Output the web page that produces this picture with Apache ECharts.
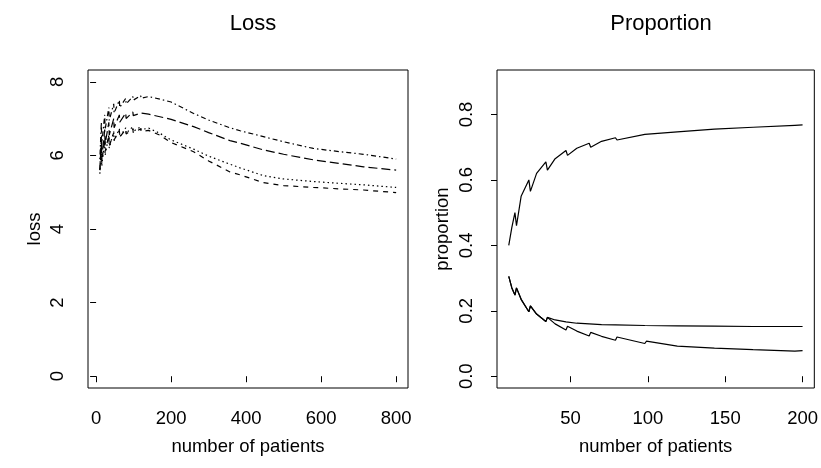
<!DOCTYPE html>
<html>
<head>
<meta charset="utf-8">
<script src="https://cdn.jsdelivr.net/npm/echarts@6/dist/echarts.min.js"></script>
<style>
  html, body { margin: 0; padding: 0; background: #fff; }
  #main { width: 821px; height: 468px; }
</style>
</head>
<body>
<div id="main"></div>
<script>
// left panel: loss vs number of patients
var lossN = [10, 14, 15, 23, 24, 34, 35, 47, 48, 62, 63, 79, 80, 98, 99, 119, 120, 140, 170, 200, 260, 300, 357, 384, 446, 500, 579, 650, 713, 760, 800];
var lossDotDash = [5.9, 6.9, 6.3, 7.1, 6.7, 7.3, 6.95, 7.4, 7.15, 7.5, 7.3, 7.55, 7.4, 7.6, 7.5, 7.62, 7.55, 7.6, 7.53, 7.45, 7.14, 6.96, 6.75, 6.67, 6.51, 6.37, 6.19, 6.1, 6.03, 5.96, 5.9];
var lossLongDash = [5.6, 6.5, 5.9, 6.7, 6.3, 6.9, 6.55, 7.0, 6.75, 7.1, 6.9, 7.15, 7.0, 7.18, 7.08, 7.15, 7.1, 7.12, 7.05, 6.98, 6.78, 6.62, 6.4, 6.33, 6.15, 6.03, 5.88, 5.78, 5.69, 5.64, 5.6];
var lossDotted = [5.5, 6.2, 5.7, 6.4, 6.0, 6.55, 6.2, 6.65, 6.4, 6.72, 6.5, 6.75, 6.6, 6.78, 6.65, 6.78, 6.7, 6.74, 6.6, 6.42, 6.17, 5.98, 5.76, 5.66, 5.45, 5.36, 5.29, 5.24, 5.2, 5.16, 5.13];
var lossDashed = [5.6, 6.3, 5.8, 6.45, 6.1, 6.55, 6.25, 6.62, 6.42, 6.68, 6.5, 6.7, 6.58, 6.72, 6.62, 6.72, 6.65, 6.68, 6.55, 6.35, 6.1, 5.85, 5.55, 5.47, 5.26, 5.18, 5.13, 5.09, 5.06, 5.02, 4.99];

// right panel: proportion vs number of patients
var propN = [10, 12, 14, 15, 18, 23, 24, 28, 34, 35, 40, 47, 48, 54, 62, 63, 70, 79, 80, 98, 99, 119, 120, 143, 144, 168, 169, 195, 196, 200];
var propTop = [0.40, 0.455, 0.50, 0.46, 0.55, 0.60, 0.565, 0.62, 0.655, 0.63, 0.665, 0.69, 0.675, 0.697, 0.712, 0.70, 0.718, 0.729, 0.722, 0.739, 0.734, 0.747, 0.743, 0.755, 0.753, 0.761, 0.76, 0.767, 0.766, 0.768];
var propFlat = [0.305, 0.27, 0.248, 0.27, 0.235, 0.197, 0.215, 0.19, 0.167, 0.18, 0.172, 0.166, 0.165, 0.162, 0.16, 0.16, 0.158, 0.157, 0.157, 0.155, 0.155, 0.154, 0.154, 0.153, 0.153, 0.152, 0.152, 0.152, 0.152, 0.152];
var propLow = [0.305, 0.27, 0.248, 0.27, 0.235, 0.197, 0.215, 0.19, 0.167, 0.18, 0.16, 0.141, 0.153, 0.138, 0.123, 0.134, 0.122, 0.11, 0.12, 0.1, 0.107, 0.092, 0.098, 0.086, 0.09, 0.081, 0.084, 0.077, 0.079, 0.078];

var lossXTicks = [0, 200, 400, 600, 800];
var lossYTicks = [0, 2, 4, 6, 8];
var propXTicks = [50, 100, 150, 200];
var propYTicks = [0, 0.2, 0.4, 0.6, 0.8];

var FONT = 'Liberation Sans';
var FS = 18.5;

function pairs(xs, ys) {
  return xs.map(function (x, i) { return [x, ys[i]]; });
}

function lineSeries(xi, yi, xs, ys, dash) {
  return {
    type: 'line',
    xAxisIndex: xi,
    yAxisIndex: yi,
    data: pairs(xs, ys),
    showSymbol: false,
    symbol: 'none',
    silent: true,
    lineStyle: { color: '#000', width: 1.2, type: dash }
  };
}

function xAxis(gi, min, max, ticks, name) {
  return {
    type: 'value', gridIndex: gi, min: min, max: max,
    name: name, nameLocation: 'middle', nameGap: 49,
    nameTextStyle: { fontFamily: FONT, fontSize: FS, color: '#000' },
    axisLine: { show: false },
    axisTick: { show: true, length: 6, customValues: ticks, lineStyle: { color: '#000' } },
    axisLabel: { customValues: ticks, margin: 21, fontFamily: FONT, fontSize: FS, color: '#000' },
    splitLine: { show: false }
  };
}

function yAxis(gi, min, max, ticks, name, dec, gap) {
  return {
    type: 'value', gridIndex: gi, min: min, max: max,
    name: name, nameLocation: 'middle', nameGap: gap,
    nameTextStyle: { fontFamily: FONT, fontSize: FS, color: '#000' },
    axisLine: { show: false },
    axisTick: { show: true, length: 6, customValues: ticks, lineStyle: { color: '#000' } },
    axisLabel: {
      customValues: ticks, rotate: 90, margin: 21,
      fontFamily: FONT, fontSize: FS, color: '#000',
      formatter: function (v) { return v.toFixed(dec); }
    },
    splitLine: { show: false }
  };
}

var chart = echarts.init(document.getElementById('main'), null, { renderer: 'canvas' });

var option = {
  animation: false,
  backgroundColor: '#fff',
  title: [
    { text: 'Loss', left: 248, top: 8, textAlign: 'center',
      textStyle: { fontFamily: FONT, fontSize: 22, fontWeight: 'normal', color: '#000' } },
    { text: 'Proportion', left: 656, top: 8, textAlign: 'center',
      textStyle: { fontFamily: FONT, fontSize: 22, fontWeight: 'normal', color: '#000' } }
  ],
  grid: [
    { left: 88, top: 70, width: 320, height: 318, show: true, borderColor: '#000', borderWidth: 1, backgroundColor: 'transparent' },
    { left: 497, top: 70, width: 319, height: 318, show: true, borderColor: '#000', borderWidth: 1, backgroundColor: 'transparent' }
  ],
  xAxis: [
    xAxis(0, -21.6, 831.6, lossXTicks, 'number of patients'),
    xAxis(1, 2.4, 207.6, propXTicks, 'number of patients')
  ],
  yAxis: [
    yAxis(0, -0.32, 8.32, lossYTicks, 'loss', 0, 44),
    yAxis(1, -0.036, 0.936, propYTicks, 'proportion', 1, 45)
  ],
  series: [
    lineSeries(0, 0, lossN, lossDotDash, [1.5, 3, 5, 3]),
    lineSeries(0, 0, lossN, lossLongDash, [9, 4]),
    lineSeries(0, 0, lossN, lossDotted, [1.5, 3]),
    lineSeries(0, 0, lossN, lossDashed, [5, 5]),
    lineSeries(1, 1, propN, propTop, 'solid'),
    lineSeries(1, 1, propN, propFlat, 'solid'),
    lineSeries(1, 1, propN, propLow, 'solid')
  ]
};

chart.setOption(option);
</script>
</body>
</html>
